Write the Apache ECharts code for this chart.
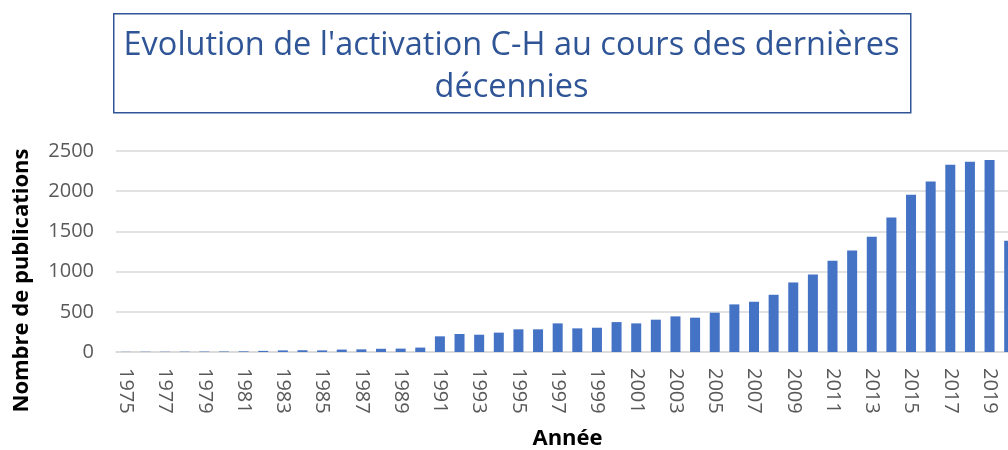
<!DOCTYPE html>
<html>
<head>
<meta charset="utf-8">
<script src="https://cdn.jsdelivr.net/npm/echarts@6/dist/echarts.min.js"></script>
<style>
html,body{margin:0;padding:0;background:#fff;}
#chart{width:1008px;height:450px;}
</style>
</head>
<body>
<div id="chart"></div>
<script>
const years = ['1975','1976','1977','1978','1979','1980','1981','1982','1983','1984','1985','1986','1987','1988','1989','1990','1991','1992','1993','1994','1995','1996','1997','1998','1999','2000','2001','2002','2003','2004','2005','2006','2007','2008','2009','2010','2011','2012','2013','2014','2015','2016','2017','2018','2019','2020'];
const publications = [2,3,3,4,5,6,8,14,20,22,20,30,33,40,42,55,195,224,215,241,282,282,356,294,302,372,356,402,443,427,489,592,625,712,865,964,1134,1262,1432,1672,1957,2122,2329,2367,2388,1383];
const titleLine1 = "Evolution de l'activation C-H au cours des dernières";
const titleLine2 = "décennies";
const xName = 'Année';
const yName = 'Nombre de publications';

const chart = echarts.init(document.getElementById('chart'));
chart.setOption({
  animation: false,
  graphic: [
    {type:'rect', left:113, top:13, shape:{width:797, height:99}, style:{fill:'#fff', stroke:'#2F5597', lineWidth:1.5}},
    {type:'text', x:511.5, y:46, style:{text:titleLine1, font:'32.5px "Open Sans"', fill:'#2F5597', align:'center', verticalAlign:'middle'}},
    {type:'text', x:511.5, y:88, style:{text:titleLine2, font:'32.5px "Open Sans"', fill:'#2F5597', align:'center', verticalAlign:'middle'}}
  ],
  grid: {left:116, top:151, width:903, bottom:98, containLabel:false, outerBoundsMode:'none'},
  xAxis: {
    type:'category', data:years,
    axisLine:{lineStyle:{color:'#D9D9D9', width:1.5}},
    axisTick:{show:false},
    axisLabel:{rotate:-90, interval:1, color:'#595959', fontSize:20, fontFamily:'Open Sans', margin:16},
    name:xName, nameLocation:'middle', nameGap:76,
    nameTextStyle:{fontWeight:'bold', fontSize:22, color:'#000', fontFamily:'Open Sans'}
  },
  yAxis: {
    type:'value', min:0, max:2500, interval:500,
    splitLine:{lineStyle:{color:'#D9D9D9', width:1.5}},
    axisLine:{show:false}, axisTick:{show:false},
    axisLabel:{color:'#595959', fontSize:20, fontFamily:'Open Sans', margin:22, formatter:v => String(v)},
    name:yName, nameLocation:'middle', nameGap:83, nameRotate:90,
    nameTextStyle:{fontWeight:'bold', fontSize:22, color:'#000', fontFamily:'Open Sans', padding:[0,58,0,0]}
  },
  series: [{type:'bar', data:publications, barWidth:10, itemStyle:{color:'#4472C4'}}]
});
</script>
</body>
</html>
